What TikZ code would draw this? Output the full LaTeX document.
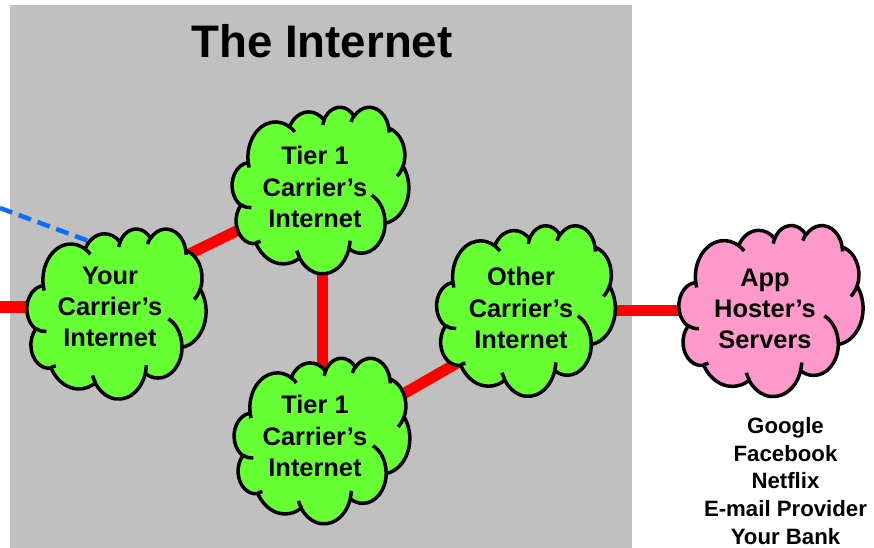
\documentclass[tikz,border=0pt]{standalone}
\usepackage{fontspec}
\setmainfont{Liberation Sans}
\usetikzlibrary{calc}
\pgfdeclarelayer{bg}
\pgfdeclarelayer{links}
\pgfsetlayers{bg,links,main}
\definecolor{panelgray}{HTML}{C0C0C0}
\definecolor{cloudgreen}{HTML}{66FF33}
\definecolor{cloudpink}{HTML}{FF99CC}
\definecolor{linkred}{HTML}{FF0000}
\definecolor{linkblue}{HTML}{0A6EFF}
% visual (ellipse) angle -> parametric angle
\pgfmathdeclarefunction{visparam}{3}{%
  \begingroup
    \pgfmathparse{atan2((#2)*sin(#1),(#3)*cos(#1))-(#1)}%
    \let\vpd\pgfmathresult
    \pgfmathparse{(#1)+\vpd-360*round(\vpd/360)}%
    \pgfmathsmuggle\pgfmathresult
  \endgroup}
\tikzset{
  cloudline/.style={draw=black, line width=3.5bp, line join=round},
  pics/pptcloud/.style={code={
    \path[cloudline, fill=#1] (-177.00,-72.30)
      \foreach \a/\b/\s/\w [evaluate=\s as \tA using {visparam(\s,\a,\b)},
                            evaluate=\w as \tB using {visparam(\s+\w,\a,\b)}] in
        {67.53/91.90/-190.4875/123.7805, 53.33/72.67/-144.1024/89.9452,
         43.65/59.45/-145.8079/99.7230, 48.57/65.95/-130.9861/117.2417,
         53.33/72.73/-78.7089/109.0269, 67.75/92.20/-46.2673/130.2690,
         57.85/78.67/0.6250/114.0333, 67.52/92.15/22.4516/115.1726,
         77.20/105.43/66.2426/75.7110, 43.60/59.18/-274.9421/146.7356,
         43.45/59.45/-246.8285/152.5189}
      { arc[x radius=\a, y radius=\b, start angle=\tA, end angle=\tB] } -- cycle;
    \foreach \px/\py/\a/\b/\s/\w [evaluate=\s as \tA using {visparam(\s,\a,\b)},
                                  evaluate=\w as \tB using {visparam(\s+\w,\a,\b)}] in
        {46.93/261.77/43.45/59.45/86.7420/26.4295,
         69.28/348.99/43.60/59.18/73.6105/11.4475,
         164.78/390.90/67.52/92.15/137.6242/14.0811,
         288.27/347.51/67.52/92.15/6.4533/15.9984,
         341.29/229.54/57.85/78.67/-70.2924/70.9174,
         417.98/153.54/53.33/72.73/30.3180/27.7515,
         383.24/54.26/48.57/65.95/-13.7443/14.8589,
         290.78/39.52/48.57/65.95/-149.1815/18.1954,
         221.41/47.20/43.65/59.45/-163.4943/17.6864,
         140.00/51.92/67.53/91.90/-66.7070/12.3194,
         41.27/157.89/67.53/91.90/157.6544/11.8582}
      { \path[cloudline] (\px-216,\py-216) arc[x radius=\a, y radius=\b, start angle=\tA, end angle=\tB]; }
  }},
  cloudtext/.style={font=\bfseries\fontsize{25.5}{31.5}\selectfont, align=center, inner sep=0pt},
  listtext/.style={font=\bfseries\fontsize{22.3}{27.7}\selectfont, align=center, inner sep=0pt},
  titletext/.style={font=\bfseries\fontsize{45.8}{50}\selectfont, inner sep=0pt},
  redlink/.style={draw=linkred, line width=11bp},
  bluelink/.style={draw=linkblue, line width=4.5bp, dash pattern=on 13bp off 7bp}
}
\begin{document}
\begin{tikzpicture}[x=1bp,y=-1bp]
\useasboundingbox (0,0) rectangle (874,548);
\begin{pgfonlayer}{bg}
  \fill[panelgray] (10,5) rectangle (632,548);
\end{pgfonlayer}
\node[titletext] (title) at (322,41) {The Internet};
% cloud centres
\coordinate (your) at (116.5,313.5);
\coordinate (t1a) at (320.5,190);
\coordinate (t1b) at (322,440.5);
\coordinate (other) at (526,310.5);
\coordinate (app) at (771,310.5);
% clouds
\pic[xscale=179/432, yscale=170/432] at (your) {pptcloud=cloudgreen};
\pic[xscale=176.5/432, yscale=166.5/432] at (t1a) {pptcloud=cloudgreen};
\pic[xscale=175.5/432, yscale=165.5/432] at (t1b) {pptcloud=cloudgreen};
\pic[xscale=178.5/432, yscale=170.5/432] at (other) {pptcloud=cloudgreen};
\pic[xscale=184/432, yscale=171/432] at (app) {pptcloud=cloudpink};
% texts
\node[cloudtext] (yourT) at (110,307) {Your\\Carrier’s\\Internet};
\node[cloudtext] (t1aT) at (315,187) {Tier 1\\Carrier’s\\Internet};
\node[cloudtext] (t1bT) at (315,436) {Tier 1\\Carrier’s\\Internet};
\node[cloudtext] (otherT) at (521,308) {Other\\Carrier’s\\Internet};
\node[cloudtext] (appT) at (765,309) {App\\Hoster’s\\Servers};
\node[listtext] (list) at (785.5,481) {Google\\Facebook\\Netflix\\E-mail Provider\\Your Bank};
% free ends
\coordinate (leftEnd) at (0,307);
\coordinate (blueStart) at (0,208);
\coordinate (blueEnd) at (110,249);
\coordinate (vlineX) at (322,0);
\begin{pgfonlayer}{links}
  \draw[redlink] (leftEnd) -- (leftEnd -| your);
  \draw[bluelink] (blueStart) -- (blueEnd);
  \draw[redlink] ($(your)+(0,-24)$) -- (t1a);
  \draw[redlink] (vlineX |- t1a) -- (vlineX |- t1b);
  \draw[redlink] (t1b) -- ($(other)+(0,13)$);
  \draw[redlink] (other |- app) -- (app);
\end{pgfonlayer}
\end{tikzpicture}
\end{document}
